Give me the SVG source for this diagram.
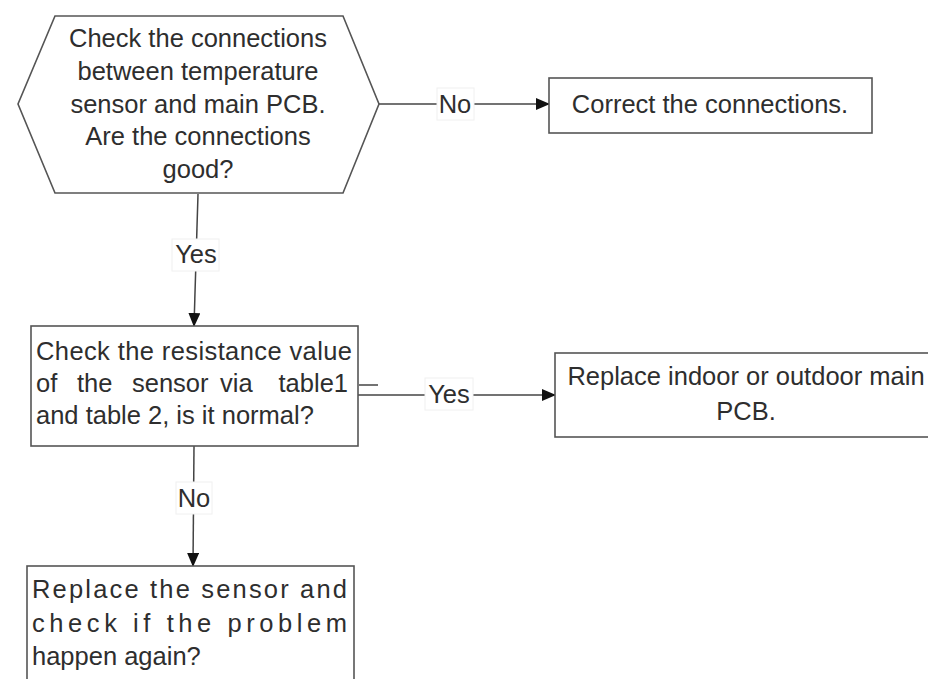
<svg xmlns="http://www.w3.org/2000/svg" width="928" height="679" viewBox="0 0 928 679">
  <style>
    .shape { fill: #ffffff; stroke: #555555; stroke-width: 1.6; }
    .txt { font-family: "Liberation Sans", Arial, sans-serif; font-size: 25.5px; fill: #2e2e2e; }
    .mid { text-anchor: middle; }
    .conn { fill: none; stroke: #444444; stroke-width: 1.5; }
    .lblbg { fill: #ffffff; stroke: #f0f0f0; stroke-width: 1; }
  </style>
  <defs>
    <marker id="arrow" markerUnits="userSpaceOnUse" markerWidth="14" markerHeight="12" refX="13" refY="6" orient="auto">
      <path d="M0,0 L14,6 L0,12 Z" fill="#111111"/>
    </marker>
  </defs>
  <rect width="928" height="679" fill="#ffffff"/>

  <g id="connectors">
    <path class="conn" d="M379,104 L549,104" marker-end="url(#arrow)"/>
    <path class="conn" d="M198,194 L194,326" marker-end="url(#arrow)"/>
    <path class="conn" d="M358,395 L555,395" marker-end="url(#arrow)"/>
    <path class="conn" d="M359,385 L378,385"/>
    <path class="conn" d="M194,446 L193,566" marker-end="url(#arrow)"/>
    <g id="label-no-1">
      <rect class="lblbg" x="437" y="88" width="37" height="32"/>
      <text class="txt mid" x="455" y="113">No</text>
    </g>
    <g id="label-yes-1">
      <rect class="lblbg" x="172" y="239" width="47" height="32"/>
      <text class="txt mid" x="196" y="263">Yes</text>
    </g>
    <g id="label-yes-2">
      <rect class="lblbg" x="425" y="378" width="48" height="32"/>
      <text class="txt mid" x="449" y="403">Yes</text>
    </g>
    <g id="label-no-2">
      <rect class="lblbg" x="176" y="482" width="36" height="32"/>
      <text class="txt mid" x="194" y="507">No</text>
    </g>
  </g>

  <g id="node-check-connections">
    <polygon class="shape" points="55,16 343,16 379,104 343,193 55,193 18,104"/>
    <text class="txt mid" x="198" y="47">Check the connections</text>
    <text class="txt mid" x="198" y="79.5">between temperature</text>
    <text class="txt mid" x="198" y="112.5">sensor and main PCB.</text>
    <text class="txt mid" x="198" y="145">Are the connections</text>
    <text class="txt mid" x="198" y="178">good?</text>
  </g>

  <g id="node-correct-connections">
    <rect class="shape" x="549" y="78" width="323" height="55"/>
    <text class="txt mid" x="710" y="113">Correct the connections.</text>
  </g>

  <g id="node-check-resistance">
    <rect class="shape" x="31" y="326" width="327" height="120"/>
    <text class="txt" x="36" y="360" textLength="316" lengthAdjust="spacing">Check the resistance value</text>
    <text class="txt" x="36" y="392">of</text>
    <text class="txt" x="77" y="392">the</text>
    <text class="txt" x="132" y="392">sensor</text>
    <text class="txt" x="220" y="392">via</text>
    <text class="txt" x="348" y="392" text-anchor="end">table1</text>
    <text class="txt" x="36" y="424">and table 2, is it normal?</text>
  </g>

  <g id="node-replace-pcb">
    <rect class="shape" x="555" y="353" width="384" height="84"/>
    <text class="txt mid" x="746" y="385">Replace indoor or outdoor main</text>
    <text class="txt mid" x="746" y="420">PCB.</text>
  </g>

  <g id="node-replace-sensor">
    <rect class="shape" x="27" y="566" width="327" height="130"/>
    <text class="txt" x="32" y="598" textLength="315" lengthAdjust="spacing">Replace the sensor and</text>
    <text class="txt" x="32" y="632" textLength="315" lengthAdjust="spacing">check if the problem</text>
    <text class="txt" x="32" y="665">happen again?</text>
  </g>
</svg>
